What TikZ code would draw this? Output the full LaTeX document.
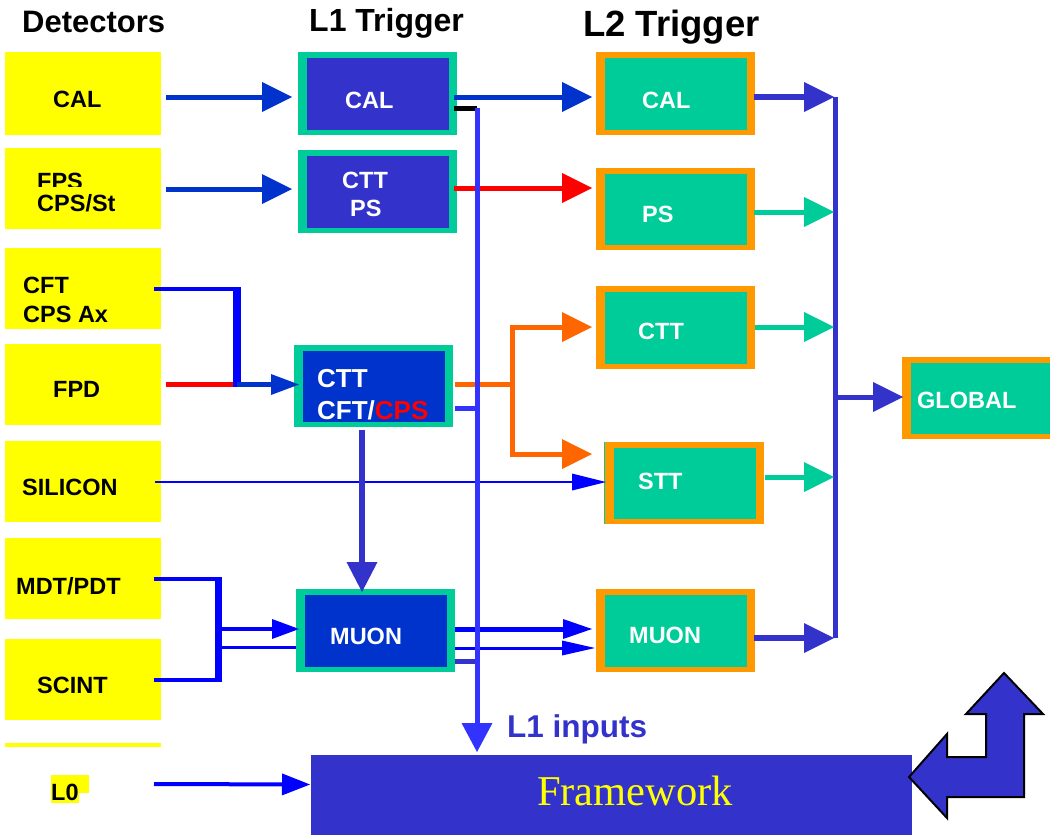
\documentclass[tikz,border=0pt]{standalone}
\usepackage{fontspec}
\setmainfont{Liberation Sans}
\newfontfamily\fwfont{Liberation Serif}
\usetikzlibrary{arrows.meta,calc,fit}

\definecolor{detyellow}{HTML}{FFFF00}
\definecolor{lonerim}{HTML}{00CC99}
\definecolor{lonefill}{HTML}{3333CC}
\definecolor{lonedeep}{HTML}{0033CC}
\definecolor{ltworim}{HTML}{FF9900}
\definecolor{ltwofill}{HTML}{00CC99}
\definecolor{royal}{HTML}{0033CC}
\definecolor{pureblue}{HTML}{0000FF}
\definecolor{brightblue}{HTML}{3333FF}
\definecolor{slate}{HTML}{3333CC}
\definecolor{flame}{HTML}{FF6600}
\definecolor{signalred}{HTML}{FF0000}

\tikzset{
  heading/.style={font=\bfseries\fontsize{#1}{#1}\selectfont, anchor=base west, inner sep=0},
  txt/.style={font=\bfseries\fontsize{23.5}{23.5}\selectfont, anchor=base west, inner sep=0},
  wtxt/.style={txt, text=white},
  bigwtxt/.style={wtxt, font=\bfseries\fontsize{26}{26}\selectfont},
  detbox/.style={fill=detyellow, inner sep=0, outer sep=0},
  rimbox/.style 2 args={fill=#1, inner sep=0, outer sep=0,
    path picture={\fill[#2]
      ([xshift=8.5pt,yshift=-5.5pt]path picture bounding box.north west) rectangle
      ([xshift=-8.5pt,yshift=5.5pt]path picture bounding box.south east);}},
  headed/.style 2 args={-{Triangle[length=#1,width=#2,line width=0pt]}},
}

\begin{document}
\begin{tikzpicture}[x=1pt,y=-1pt,line join=miter]
\useasboundingbox (0,0) rectangle (1050,835);
\clip (0,0) rectangle (1050,835);

% column headings
\node[heading=31] (hdet) at (22,32) {Detectors};
\node[heading=32] (hlone) at (309,31) {L1 Trigger};
\node[heading=36.5] (hltwo) at (583,36) {L2 Trigger};

% detector boxes
\node[detbox, fit={(5,52) (161,135)}] (dcal) {};
\node[detbox, fit={(5,148) (161,229)}] (dfps) {};
\node[detbox, fit={(5,248) (161,329)}] (dcft) {};
\node[detbox, fit={(5,344) (161,425)}] (dfpd) {};
\node[detbox, fit={(5,441) (161,522)}] (dsil) {};
\node[detbox, fit={(5,538) (161,619)}] (dmdt) {};
\node[detbox, fit={(5,639) (161,720)}] (dscint) {};
\fill[detyellow] (5,743) rectangle (161,747);
\node[detbox, fit={(51,775) (89,793)}] (dl0box) {};
\fill[detyellow] (51,775) rectangle (79,803);

\node[txt] (tdcal) at (53,107) {CAL};
\node[txt] (tdfps) at (37,189.5) {FPS};
\fill[detyellow] (30,187) rectangle (130,216);
\node[txt] (tdcps) at (37,211) {CPS/St};
\node[txt] (tdcft) at (23,293) {CFT};
\node[txt] (tdcpsax) at (23,322) {CPS Ax};
\node[txt] (tdfpd) at (53,397) {FPD};
\node[txt] (tdsil) at (22,495) {SILICON};
\node[txt] (tdmdt) at (16,594) {MDT/PDT};
\node[txt] (tdscint) at (37,693) {SCINT};
\node[txt] (tdl0) at (51,800) {L0};

% level 1 boxes
\node[rimbox={lonerim}{lonefill}, fit={(298,52) (457,135)}] (l1cal) {};
\node[rimbox={lonerim}{lonefill}, fit={(298,150) (457,233)}] (l1ps) {};
\node[rimbox={lonerim}{lonedeep}, fit={(294,345) (453,427)}] (l1ctt) {};
\node[rimbox={lonerim}{lonedeep}, fit={(296,589) (455,672)}] (l1muon) {};

\node[wtxt] at (345,108) {CAL};
\node[wtxt] at (342,188) {CTT};
\node[wtxt] at (350,216) {PS};
\node[bigwtxt] at (317,387) {CTT};
\node[bigwtxt] at (317,419) {CFT/\textcolor{signalred}{CPS}};
\node[wtxt] at (330,644) {MUON};

% level 2 boxes
\node[rimbox={ltworim}{ltwofill}, fit={(596,52) (755,135)}] (l2cal) {};
\node[rimbox={ltworim}{ltwofill}, fit={(596,168) (755,250)}] (l2ps) {};
\node[rimbox={ltworim}{ltwofill}, fit={(596,286) (755,369)}] (l2ctt) {};
\fill[ltwofill] (603.5,442) rectangle (605.5,524);
\node[rimbox={ltworim}{ltwofill}, fit={(605,442) (764,524)}] (l2stt) {};
\node[rimbox={ltworim}{ltwofill}, fit={(596,589) (755,672)}] (l2muon) {};
\node[rimbox={ltworim}{ltwofill}, fit={(902,357) (1062,439)}] (global) {};

\node[wtxt] at (642,108) {CAL};
\node[wtxt] at (642,222) {PS};
\node[wtxt] at (638,339) {CTT};
\node[wtxt] at (638,489) {STT};
\node[wtxt] at (629,643) {MUON};
\node[wtxt] at (917,408) {GLOBAL};

% framework bar
\node[fill=slate, inner sep=0, outer sep=0, fit={(311,755) (912,836)}] (fw) {};
\node[anchor=base west, inner sep=0, text=detyellow,
      font=\fwfont\fontsize{42.5}{42.5}\selectfont] (tfw) at (537,805) {Framework};

% silicon straight to STT
\draw[pureblue, line width=2.5pt, headed={34pt}{17pt}]
  ($(dsil.east)+(-6,0.5)$) -- ($(l2stt.west)+(1,-1)$);

% detectors into level 1
\draw[royal, line width=5pt, headed={30pt}{30pt}]
  ($(dcal.east)+(5,3.5)$) -- ($(l1cal.west)+(-6,3.5)$);
\draw[royal, line width=5pt, headed={30pt}{30pt}]
  ($(dfps.east)+(5,0.5)$) -- ($(l1ps.west)+(-6,-2.5)$);

% CFT and FPD merged into CTT CFT/CPS
\coordinate (cftknee) at ($(dcft.east)+(76,0.5)$);
\coordinate (cftjoin) at ($(dfpd.east)+(75.5,0)$);
\draw[pureblue, line width=4pt] ($(dcft.east)+(-7,0.5)$) -- (cftknee);
\draw[signalred, line width=5pt] ($(dfpd.east)+(5,0)$) -- (cftjoin);
\draw[pureblue, line width=8pt] ($(cftknee)+(-0.5,-2)$) -- ($(cftjoin)+(0,2.5)$);
\draw[royal, line width=5pt, headed={28pt}{21pt}]
  (cftjoin) -- ($(l1ctt.west)+(5,-1.5)$);

% muon detectors merged into L1 MUON
\coordinate (muknee) at ($(dmdt.east)+(57,0.5)$);
\coordinate (muknee2) at ($(dscint.east)+(57,0.5)$);
\draw[pureblue, line width=4pt] ($(dmdt.east)+(-7,0.5)$) -- (muknee);
\draw[pureblue, line width=4pt] ($(dscint.east)+(-7,0.5)$) -- (muknee2);
\draw[pureblue, line width=7pt] ($(muknee)+(0,-2)$) -- ($(muknee2)+(0,2)$);
\draw[pureblue, line width=4.5pt, headed={27pt}{20pt}]
  ($(muknee |- l1muon.west)+(0,-1.5)$) -- ($(l1muon.west)+(3,-1.5)$);
\draw[pureblue, line width=3pt]
  ($(muknee |- l1muon.west)+(0,16.5)$) -- ($(l1muon.west)+(0,16.5)$);

% level 1 into level 2
\draw[royal, line width=5pt, headed={30pt}{30pt}]
  ($(l1cal.east)+(-3,3.5)$) -- ($(l2cal.west)+(-4,3.5)$);
\draw[signalred, line width=5pt, headed={30pt}{30pt}]
  ($(l1ps.east)+(-3,-3.5)$) -- ($(l2ps.west)+(-4,-21)$);
\coordinate (fork) at ($(l1ctt.east)+(59,-1.5)$);
\draw[flame, line width=5pt] ($(l1ctt.east)+(2,-1.5)$) -- (fork);
\draw[flame, line width=5pt, headed={30pt}{30pt}]
  (fork) |- ($(l2ctt.west)+(-4,-0.5)$);
\draw[flame, line width=5pt, headed={30pt}{30pt}]
  (fork) |- ($(l2stt.west)+(-13,-29)$);
\draw[pureblue, line width=5pt, headed={29pt}{20pt}]
  ($(l1muon.east)+(0,-1.5)$) -- ($(l2muon.west)+(-4,-1.5)$);
\draw[pureblue, line width=3pt, headed={33pt}{15pt}]
  ($(l1muon.east)+(0,17.5)$) -- ($(l2muon.west)+(-1,17.5)$);

% CTT feeds the L1 muon trigger
\draw[slate, line width=6pt, headed={30pt}{31pt}]
  ($(l1ctt.south)+(-11.5,3)$) -- ($(l1muon.north)+(-13.5,3)$);

% L1 inputs line down to the framework
\coordinate (l1tap) at ($(l1cal.east)+(20,14.5)$);
\draw[black, line width=5pt] ($(l1cal.east)+(-3,14.5)$) -- (l1tap);
\draw[brightblue, line width=5pt]
  ($(l1ctt.east)+(2,22)$) -- ($(l1tap |- l1ctt.east)+(0,22)$);
\draw[slate, line width=5pt]
  ($(l1muon.east)+(0,30.5)$) -- ($(l1tap |- l1muon.east)+(0,30.5)$);
\draw[brightblue, line width=5pt, headed={29pt}{31pt}]
  (l1tap) -- ($(l1tap |- fw.north)+(0,-3)$);
\node[heading=31.5, text=slate] (tl1in) at (507,737) {L1 inputs};

% level 2 outputs collected on the bus into GLOBAL
\coordinate (bustop) at ($(l2cal.east)+(80,3.5)$);
\coordinate (busbot) at ($(l2muon.east)+(80,7.5)$);
\draw[slate, line width=5pt] (bustop) -- (busbot);
\draw[slate, line width=6pt, headed={30pt}{30pt}]
  ($(l2cal.east)+(-1,3.5)$) -- ($(bustop)+(-1,0)$);
\draw[ltwofill, line width=5pt, headed={30pt}{30pt}]
  ($(l2ps.east)+(-1,3)$) -- ($(bustop |- l2ps.east)+(-1,3)$);
\draw[ltwofill, line width=5pt, headed={30pt}{30pt}]
  ($(l2ctt.east)+(0,-0.5)$) -- ($(bustop |- l2ctt.east)+(-1,-0.5)$);
\draw[ltwofill, line width=5pt, headed={30pt}{30pt}]
  ($(l2stt.east)+(1,-6)$) -- ($(bustop |- l2stt.east)+(-1,-6)$);
\draw[slate, line width=6pt, headed={30pt}{30pt}]
  ($(l2muon.east)+(-1,7.5)$) -- ($(busbot)+(-1,0)$);
\draw[slate, line width=5pt, headed={30pt}{30pt}]
  ($(bustop |- global.west)+(0,-1)$) -- ($(global.west)+(1,-1)$);

% L0 into the framework
\draw[pureblue, line width=4pt, headed={28pt}{22pt}]
  ($(dl0box.east)+(65,0)$) -- ($(fw.west)+(-1,-11)$);

% return arrow into the framework
\draw[fill=slate, draw=black, line width=2pt, line join=miter]
  (1004,673) -- (1043,714) -- (1024,714) -- (1024,797) -- (947,797) --
  (947,818) -- (909,777) -- (947,734) -- (947,757) -- (986,757) --
  (986,714) -- (966,714) -- cycle;
\end{tikzpicture}
\end{document}
